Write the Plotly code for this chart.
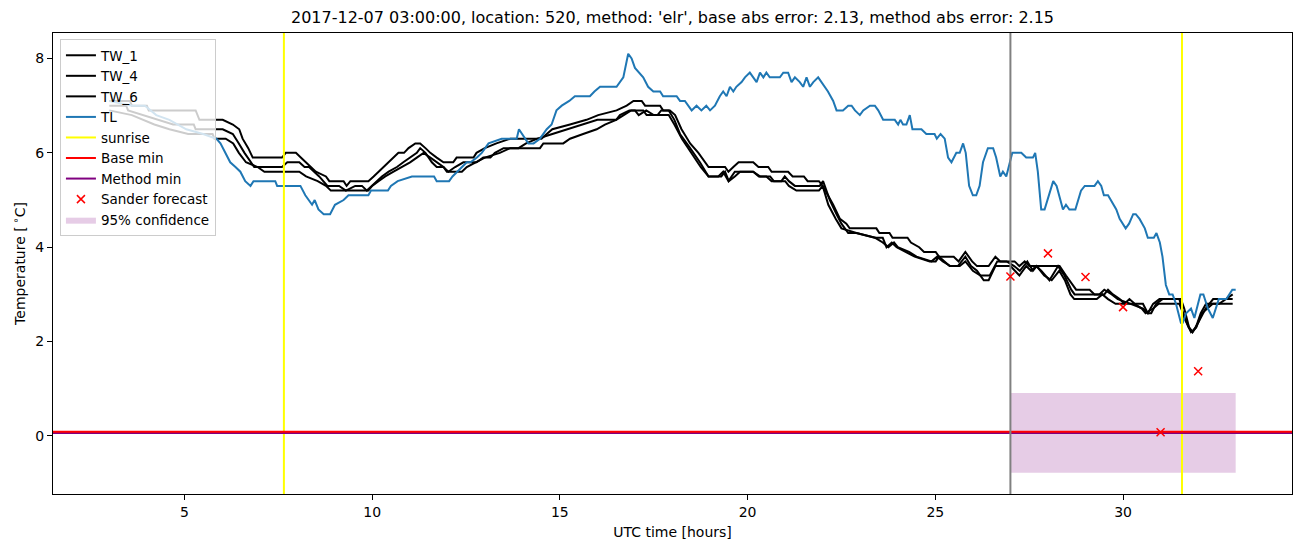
import plotly.graph_objects as go

# ---------------- data (hours UTC, temperature in deg C) ----------------
tl_hours = [3.0, 3.6, 3.95, 4.25, 4.6, 5.05, 5.5, 5.85, 5.96, 6.14, 6.22, 6.36, 6.49, 6.62, 6.76, 6.84, 7.42, 7.47,
            8.09, 8.22, 8.4, 8.47, 8.57, 8.71, 8.88, 9.01, 9.24, 9.37, 9.9, 9.97, 10.42, 10.5, 10.68, 11.06, 11.65,
            11.72, 12.05, 12.14, 12.39, 12.52, 12.62, 12.79, 12.92, 13.1, 13.45, 13.85, 13.91, 14.16, 14.3, 14.47,
            14.65, 14.78, 14.91, 15.05, 15.25, 15.4, 15.8, 15.92, 16.07, 16.51, 16.69, 16.82, 16.91, 17.0, 17.22,
            17.35, 17.49, 17.67, 17.75, 18.11, 18.2, 18.33, 18.51, 18.64, 18.77, 18.9, 19.0, 19.13, 19.26, 19.35,
            19.44, 19.53, 19.62, 19.7, 19.84, 19.93, 20.06, 20.24, 20.33, 20.42, 20.5, 20.59, 20.86, 20.95, 21.08,
            21.17, 21.26, 21.39, 21.48, 21.57, 21.66, 21.75, 21.88, 22.14, 22.28, 22.37, 22.54, 22.68, 22.77, 22.86,
            22.99, 23.08, 23.26, 23.39, 23.48, 23.61, 23.92, 24.01, 24.07, 24.14, 24.23, 24.32, 24.39, 24.63, 24.76,
            24.98, 25.04, 25.14, 25.25, 25.34, 25.43, 25.56, 25.65, 25.74, 25.81, 25.9, 26.0, 26.09, 26.18, 26.27,
            26.4, 26.54, 26.62, 26.73, 26.8, 26.89, 27.05, 27.29, 27.42, 27.6, 27.66, 27.73, 27.82, 27.91, 28.14,
            28.23, 28.4, 28.48, 28.57, 28.73, 28.88, 28.98, 29.24, 29.33, 29.42, 29.49, 29.6, 29.82, 29.91, 30.07,
            30.16, 30.27, 30.34, 30.44, 30.58, 30.66, 30.82, 30.89, 30.98, 31.05, 31.14, 31.23, 31.32, 31.41, 31.54,
            31.59, 31.68, 31.81, 31.9, 32.06, 32.14, 32.26, 32.39, 32.55, 32.64, 32.75, 32.91, 33.0]
tl_temp = [7.1, 7.0, 7.0, 6.8, 6.7, 6.5, 6.4, 6.3, 6.2, 5.9, 5.8, 5.7, 5.6, 5.4, 5.3, 5.4, 5.4, 5.3,
           5.3, 5.1, 4.9, 5.0, 4.8, 4.7, 4.7, 4.9, 5.0, 5.1, 5.1, 5.2, 5.2, 5.3, 5.4, 5.5, 5.5,
           5.4, 5.4, 5.5, 5.7, 5.8, 5.8, 5.9, 6.0, 6.2, 6.3, 6.3, 6.5, 6.2, 6.2, 6.3,
           6.5, 6.6, 6.9, 7.0, 7.1, 7.2, 7.2, 7.3, 7.4, 7.4, 7.6, 8.1, 8.0, 7.8, 7.6,
           7.4, 7.3, 7.3, 7.2, 7.2, 7.1, 7.1, 6.9, 7.0, 6.9, 7.0, 6.9, 7.0, 7.2, 7.3,
           7.2, 7.4, 7.3, 7.4, 7.5, 7.6, 7.7, 7.5, 7.7, 7.6, 7.7, 7.6, 7.6, 7.7, 7.7,
           7.5, 7.6, 7.5, 7.4, 7.6, 7.4, 7.5, 7.6, 7.3, 7.1, 6.9, 6.9, 7.0, 7.0, 6.9,
           6.8, 6.9, 7.0, 7.0, 6.9, 6.7, 6.7, 6.6, 6.7, 6.6, 6.6, 6.8, 6.5, 6.5, 6.4,
           6.4, 6.3, 6.4, 6.3, 5.9, 5.8, 6.0, 6.0, 6.2, 6.0, 5.3, 5.1, 5.1, 5.3, 5.8,
           6.1, 6.1, 5.9, 5.5, 5.6, 5.5, 6.0, 6.0, 5.9, 5.9, 6.0, 5.6, 4.8, 4.8, 5.4,
           5.3, 4.8, 4.9, 4.8, 4.8, 5.2, 5.3, 5.3, 5.4, 5.3, 5.1, 5.1, 4.8, 4.6, 4.4,
           4.5, 4.7, 4.7, 4.6, 4.4, 4.2, 4.2, 4.3, 4.1, 3.8, 3.2, 3.0, 3.0, 2.8, 2.4,
           2.4, 2.6, 2.7, 2.5, 3.0, 3.0, 2.7, 2.5, 2.9, 2.9, 2.9, 3.1, 3.1]

tw1_hours = [3.0, 3.55, 3.6, 4.0, 4.05, 5.3, 5.4, 6.02, 6.29, 6.46, 6.55, 6.7, 6.82, 7.6, 7.7, 7.97, 8.1, 8.24,
             8.37, 8.5, 8.77, 8.86, 9.24, 9.32, 9.42, 9.9, 10.04, 10.17, 10.3, 10.44, 10.57, 10.7, 10.85, 10.97,
             11.15, 11.28, 11.42, 11.55, 11.72, 11.9, 12.16, 12.25, 12.7, 12.78, 13.0, 13.31, 13.68, 14.07, 14.51,
             14.65, 14.8, 15.27, 15.71, 16.02, 16.51, 16.78, 16.96, 17.18, 17.27, 17.67, 17.75, 17.93, 18.07,
             18.24, 18.47, 18.69, 18.96, 19.4, 19.49, 19.62, 19.76, 20.15, 20.29, 20.55, 20.64, 21.08, 21.2,
             21.5, 21.6, 21.9, 22.0, 22.28, 22.46, 22.63, 22.72, 23.43, 23.51, 23.78, 23.86, 24.26, 24.35, 24.57,
             24.7, 25.01, 25.1, 25.49, 25.62, 25.8, 25.98, 26.11, 26.42, 26.6, 26.73, 26.96, 27.11, 27.24, 27.38,
             27.5, 27.78, 28.04, 28.31, 28.48, 28.66, 28.75, 29.11, 29.24, 29.5, 29.6, 29.73, 29.91, 30.04, 30.17,
             30.31, 30.53, 30.66, 30.75, 30.88, 31.05, 31.23, 31.54, 31.63, 31.76, 31.85, 31.94, 32.07, 32.21,
             32.56, 32.92]
tw1_temp = [7.1, 7.1, 7.0, 7.0, 6.9, 6.9, 6.7, 6.7, 6.6, 6.5, 6.3, 6.1, 5.9, 5.9, 6.0, 6.0, 5.9, 5.8,
            5.7, 5.6, 5.5, 5.4, 5.4, 5.3, 5.4, 5.4, 5.5, 5.6, 5.7, 5.8, 5.9, 6.0, 6.0, 6.1,
            6.2, 6.2, 6.1, 6.0, 5.9, 5.8, 5.8, 5.9, 5.9, 6.0, 6.1, 6.2, 6.3, 6.3, 6.3,
            6.4, 6.5, 6.6, 6.7, 6.8, 6.9, 7.0, 7.1, 7.1, 7.0, 7.0, 6.9, 6.9, 6.8,
            6.5, 6.2, 6.0, 5.7, 5.7, 5.6, 5.7, 5.8, 5.8, 5.7, 5.7, 5.6, 5.6, 5.5,
            5.5, 5.4, 5.4, 5.3, 4.9, 4.6, 4.5, 4.4, 4.4, 4.3, 4.3, 4.2, 4.2, 4.1, 4.0,
            3.9, 3.9, 3.8, 3.8, 3.7, 3.9, 3.7, 3.6, 3.6, 3.8, 3.7, 3.7, 3.7, 3.6, 3.7,
            3.6, 3.6, 3.6, 3.6, 3.4, 3.2, 3.1, 3.1, 3.0, 3.0, 3.1, 3.0, 2.9, 2.8, 2.9,
            2.8, 2.8, 2.6, 2.6, 2.8, 2.9, 2.9, 2.9, 2.7, 2.3, 2.2, 2.3, 2.6, 2.8,
            2.8, 3.0]

tw4_hours = [3.0, 3.45, 3.5, 3.9, 4.3, 4.7, 5.25, 5.3, 6.02, 6.29, 6.45, 6.6, 6.86, 7.6, 7.74, 8.06, 8.2, 8.32,
             8.59, 8.81, 9.12, 9.3, 9.55, 9.73, 9.86, 9.99, 10.12, 10.26, 10.44, 10.66, 10.83, 11.01, 11.19,
             11.28, 11.42, 11.59, 11.72, 11.9, 12.03, 12.21, 12.43, 12.78, 12.96, 13.15, 13.27, 13.5, 13.9, 14.1,
             14.4, 14.8, 15.2, 15.6, 16.0, 16.5, 16.6, 16.85, 17.22, 17.31, 17.6, 17.7, 17.9, 18.05, 18.2, 18.47,
             18.73, 18.96, 19.22, 19.35, 19.49, 19.66, 20.15, 20.33, 20.5, 20.64, 20.9, 20.99, 21.1, 21.26, 21.92,
             22.01, 22.19, 22.37, 22.5, 22.68, 22.9, 23.39, 23.6, 23.7, 23.84, 23.97, 24.23, 24.45, 24.85, 25.01,
             25.1, 25.38, 25.6, 25.8, 25.95, 26.11, 26.29, 26.42, 26.6, 26.78, 27.0, 27.24, 27.42, 27.55, 27.69,
             27.82, 28.04, 28.27, 28.44, 28.62, 28.71, 29.37, 29.5, 29.7, 29.86, 30.2, 30.53, 30.66, 30.8, 30.97,
             31.5, 31.63, 31.81, 31.95, 32.1, 32.39, 32.92]
tw4_temp = [7.0, 7.0, 6.9, 6.8, 6.7, 6.6, 6.6, 6.5, 6.5, 6.4, 6.2, 6.0, 5.7, 5.7, 5.8, 5.8, 5.7, 5.7,
            5.5, 5.3, 5.3, 5.2, 5.3, 5.3, 5.2, 5.3, 5.4, 5.5, 5.6, 5.7, 5.8, 5.9, 6.0,
            6.1, 6.0, 5.8, 5.7, 5.7, 5.6, 5.7, 5.8, 5.8, 5.9, 5.9, 6.0, 6.1, 6.1, 6.2,
            6.3, 6.4, 6.5, 6.6, 6.7, 6.7, 6.8, 6.9, 6.9, 6.8, 6.8, 6.9, 6.9, 6.7, 6.4, 6.1,
            5.8, 5.5, 5.5, 5.6, 5.4, 5.6, 5.6, 5.5, 5.5, 5.4, 5.4, 5.5, 5.4, 5.3, 5.3,
            5.4, 5.0, 4.7, 4.5, 4.3, 4.3, 4.2, 4.2, 4.0, 4.1, 4.0, 3.9, 3.8, 3.7, 3.7,
            3.8, 3.6, 3.6, 3.8, 3.6, 3.5, 3.3, 3.3, 3.6, 3.6, 3.6, 3.4, 3.6, 3.5, 3.6,
            3.5, 3.3, 3.6, 3.4, 3.1, 3.0, 3.0, 3.1, 3.0, 2.9, 2.8, 2.7, 2.6, 2.8, 2.9,
            2.9, 2.5, 2.2, 2.3, 2.6, 2.8, 2.8]

tw6_hours = [3.0, 3.6, 4.2, 4.6, 5.1, 5.75, 5.8, 6.1, 6.3, 6.45, 6.64, 6.95, 7.13, 8.06, 8.24, 8.55, 8.77, 8.9,
             9.9, 10.0, 10.17, 10.35, 10.57, 10.79, 11.01, 11.19, 11.37, 11.55, 11.72, 11.9, 11.99, 12.39, 12.52,
             12.78, 13.0, 13.4, 13.68, 14.47, 14.56, 15.09, 15.27, 15.62, 15.98, 16.2, 16.5, 16.7, 16.9, 17.0,
             17.1, 17.3, 17.5, 17.9, 18.05, 18.25, 18.5, 18.75, 18.96, 19.3, 19.4, 19.5, 19.66, 19.8, 20.15, 20.3,
             20.6, 20.7, 21.0, 21.1, 21.3, 21.9, 22.0, 22.15, 22.35, 22.5, 22.9, 23.4, 23.6, 23.75, 23.9, 24.0,
             24.3, 24.5, 24.9, 25.05, 25.2, 25.4, 25.65, 25.8, 26.0, 26.2, 26.45, 26.65, 26.9, 27.1, 27.25, 27.45,
             27.6, 27.7, 27.9, 28.1, 28.3, 28.45, 28.6, 28.7, 29.3, 29.45, 29.6, 29.8, 30.3, 30.5, 30.6, 30.8,
             30.95, 31.5, 31.6, 31.75, 31.85, 32.0, 32.2, 32.4, 32.6, 32.92]
tw6_temp = [6.9, 6.8, 6.6, 6.5, 6.4, 6.4, 6.3, 6.3, 6.2, 6.0, 5.8, 5.7, 5.6, 5.6, 5.5, 5.4, 5.3, 5.2,
            5.2, 5.3, 5.4, 5.5, 5.6, 5.7, 5.8, 5.9, 6.0, 5.9, 5.8, 5.7, 5.6, 5.6, 5.7,
            5.8, 5.9, 6.0, 6.1, 6.1, 6.2, 6.2, 6.3, 6.4, 6.5, 6.6, 6.7, 6.8, 6.9, 6.9,
            6.8, 6.9, 6.8, 6.8, 6.6, 6.3, 6.0, 5.7, 5.5, 5.5, 5.6, 5.4, 5.5, 5.6, 5.6, 5.5,
            5.5, 5.4, 5.4, 5.3, 5.2, 5.2, 5.3, 4.9, 4.6, 4.4, 4.3, 4.2, 4.1, 4.0, 4.1, 4.0,
            3.9, 3.8, 3.7, 3.8, 3.7, 3.6, 3.6, 3.7, 3.5, 3.4, 3.4, 3.7, 3.7, 3.6, 3.5, 3.7,
            3.5, 3.6, 3.4, 3.3, 3.5, 3.3, 3.0, 2.9, 2.9, 3.0, 2.9, 2.8, 2.8, 2.7, 2.6, 2.7,
            2.8, 2.8, 2.6, 2.3, 2.2, 2.4, 2.7, 2.9, 2.9, 2.9]

sunrise_hours = [7.65, 31.57]
forecast_start = 27.0
base_min = 0.09
method_min = 0.065
sander_hours = [27, 28, 29, 30, 31, 32]
sander_temp = [3.38, 3.87, 3.37, 2.73, 0.08, 1.37]
conf_hours = [27.0, 33.0]
conf_low = -0.78
conf_high = 0.91

title_text = "2017-12-07 03:00:00, location: 520, method: 'elr', base abs error: 2.13, method abs error: 2.15"
x_ticks = [5, 10, 15, 20, 25, 30]
y_ticks = [0, 2, 4, 6, 8]

X_RANGE = [1.5, 34.5]
Y_RANGE = [-1.23, 8.54]

FONT = "DejaVu Sans"

fig = go.Figure()

# 95% confidence band (drawn first, lowest)
fig.add_trace(go.Scatter(
    x=[conf_hours[0], conf_hours[1], conf_hours[1], conf_hours[0], conf_hours[0]],
    y=[conf_low, conf_low, conf_high, conf_high, conf_low],
    fill="toself", fillcolor="rgba(128,0,128,0.2)", line=dict(width=0),
    mode="lines", name="95% confidence", legendrank=9, hoverinfo="skip"))

for i, (name, hx, tv) in enumerate([("TW_1", tw1_hours, tw1_temp),
                                     ("TW_4", tw4_hours, tw4_temp),
                                     ("TW_6", tw6_hours, tw6_temp)]):
    fig.add_trace(go.Scatter(x=hx, y=tv, mode="lines", name=name,
                             line=dict(color="black", width=2), legendrank=1 + i))

fig.add_trace(go.Scatter(x=tl_hours, y=tl_temp, mode="lines", name="TL",
                         line=dict(color="#1f77b4", width=2), legendrank=4))

sx, sy = [], []
for s in sunrise_hours:
    sx += [s, s, None]
    sy += [Y_RANGE[0], Y_RANGE[1], None]
fig.add_trace(go.Scatter(x=sx, y=sy, mode="lines", name="sunrise",
                         line=dict(color="yellow", width=2), legendrank=5))

# method min drawn below base min so the red line stays visible on top
fig.add_trace(go.Scatter(x=X_RANGE, y=[method_min, method_min], mode="lines", name="Method min",
                         line=dict(color="purple", width=2), legendrank=7))
fig.add_trace(go.Scatter(x=X_RANGE, y=[base_min, base_min], mode="lines", name="Base min",
                         line=dict(color="red", width=2), legendrank=6))

fig.add_trace(go.Scatter(x=[forecast_start, forecast_start], y=Y_RANGE, mode="lines",
                         line=dict(color="gray", width=2), showlegend=False))

fig.add_trace(go.Scatter(x=sander_hours, y=sander_temp, mode="markers", name="Sander forecast",
                         marker=dict(symbol="x-thin", size=8, color="red",
                                     line=dict(width=1.5, color="red")), legendrank=8))

axis_common = dict(showline=True, linecolor="black", linewidth=1, mirror=True,
                   ticks="outside", ticklen=5, tickwidth=1, tickcolor="black",
                   showgrid=False, zeroline=False,
                   tickfont=dict(family=FONT, size=14, color="black"))

fig.update_layout(
    width=1302, height=547,
    margin=dict(l=53, r=10, t=33, b=53),
    paper_bgcolor="white", plot_bgcolor="white",
    font=dict(family=FONT, size=14, color="black"),
    title=dict(text=title_text, x=0.5, xref="paper", xanchor="center",
               y=1 - 17 / 547, yref="container", yanchor="middle",
               font=dict(family=FONT, size=16, color="black")),
    xaxis=dict(range=X_RANGE, tickvals=x_ticks,
               title=dict(text="UTC time [hours]", font=dict(family=FONT, size=14), standoff=8),
               **axis_common),
    yaxis=dict(range=Y_RANGE, tickvals=y_ticks,
               title=dict(text="Temperature [\u2009<sup>\u2218</sup>C]", font=dict(family=FONT, size=14), standoff=6),
               **axis_common),
    legend=dict(x=0.0056, y=0.987, xanchor="left", yanchor="top",
                bgcolor="rgba(255,255,255,0.8)", bordercolor="#cccccc", borderwidth=1,
                font=dict(family=FONT, size=13.5, color="black"),
                itemwidth=30, tracegroupgap=0),
    showlegend=True,
)

fig.write_html("out.html")
